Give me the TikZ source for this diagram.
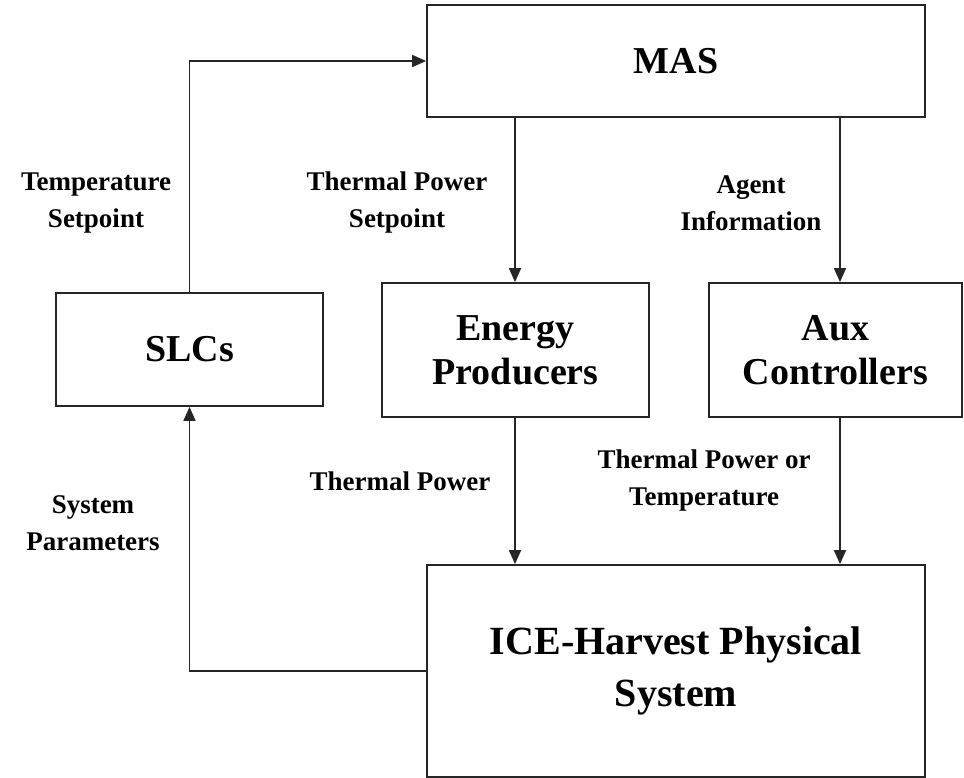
\documentclass[tikz,border=0pt]{standalone}
\usepackage{fontspec}
\setmainfont{Liberation Serif}
\usetikzlibrary{arrows.meta}
\begin{document}
\begin{tikzpicture}[x=1pt,y=-1pt,
  box/.style={draw=black!85,line width=1.8pt,fill=white,inner sep=0pt,align=center,font=\fontsize{38}{44}\selectfont\bfseries},
  lbl/.style={align=center,inner sep=0pt,font=\fontsize{27}{37}\selectfont\bfseries},
  conn/.style={draw=black!85,line width=1.8pt},
  arr/.style={conn,-{Triangle[length=14pt,width=12pt]}}]
\useasboundingbox (0,0) rectangle (964,778);
\node[box,minimum width=498pt,minimum height=112pt] (mas) at (676,61) {MAS};
\node[box,minimum width=267pt,minimum height=113pt] (slc) at (189.5,349.5) {SLCs};
\node[box,minimum width=267pt,minimum height=134pt] (ep) at (515.5,350) {Energy\\Producers};
\node[box,minimum width=253pt,minimum height=134pt] (aux) at (835.5,350) {Aux\\Controllers};
\node[box,minimum width=498pt,minimum height=212pt,font=\fontsize{40}{52}\selectfont\bfseries] (ice) at (676,671) {ICE-Harvest Physical\\System};
\coordinate (ax) at (840,0);
\coordinate (ex) at (515,0);
% connectors
\draw[arr] (slc.north) |- (mas.west);
\draw[arr] (mas.south -| ex) -- (ep.north -| ex);
\draw[arr] (mas.south -| ax) -- (aux.north -| ax);
\draw[arr] (ep.south -| ex) -- (ice.north -| ex);
\draw[arr] (aux.south -| ax) -- (ice.north -| ax);
\draw[arr] (ice.west) -| (slc.south);
% labels
\node[lbl] (l1) at (96,203) {Temperature\\Setpoint};
\node[lbl] (l2) at (397,203) {Thermal Power\\Setpoint};
\node[lbl] (l3) at (751,203) {Agent\\Information};
\node[lbl] (l4) at (400,481) {Thermal Power};
\node[lbl] (l5) at (704,481) {Thermal Power or\\Temperature};
\node[lbl] (l6) at (93,523) {System\\Parameters};
\end{tikzpicture}
\end{document}
